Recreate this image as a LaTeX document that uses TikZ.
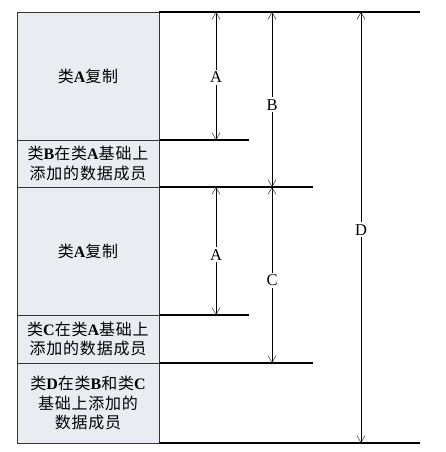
\documentclass[tikz,border=0pt]{standalone}
\usepackage{fontspec}
\setmainfont{Liberation Serif}
\newfontfamily\cjk[LetterSpace=5]{Noto Sans CJK SC}
\newcommand{\zh}[1]{{\cjk\mdseries #1}}
\usetikzlibrary{positioning, arrows.meta}
\definecolor{partfill}{RGB}{233,237,242}
\tikzstyle{Level} = [line width=2.4pt, line cap=butt]
\tikzstyle{Dim} = [
    thin,
    {Straight Barb[length=7pt, width=8pt]}-{Straight Barb[length=7pt, width=8pt]}
]

\begin{document}
\begin{tikzpicture}[
x=1pt, y=-1pt,
part/.style={
    rectangle,
    draw = black!80,
    fill = partfill,
    minimum width = 142pt,
    inner sep = 2pt,
    outer sep = 0pt,
    align = center,
    font = \fontsize{16}{19.5}\selectfont\bfseries
    },
lbl/.style={fill = white, inner sep = 2pt, font = \fontsize{16.5}{18}\selectfont}
]
\useasboundingbox (0,0) rectangle (445,452);

\node [part, minimum height = 128pt, anchor = north west] (copyB) at (17,12) {\zh{类}A\zh{复制}};
\node [part, minimum height = 47pt, below = 0pt of copyB] (addB) {
    \zh{类}B\zh{在类}A\zh{基础上}\\\zh{添加的数据成员}
};
\node [part, minimum height = 128pt, below = 0pt of addB] (copyC) {\zh{类}A\zh{复制}};
\node [part, minimum height = 48pt, below = 0pt of copyC] (addC) {
    \zh{类}C\zh{在类}A\zh{基础上}\\\zh{添加的数据成员}
};
\node [part, minimum height = 80pt, below = 0pt of addC] (addD) {
    \zh{类}D\zh{在类}B\zh{和类}C\\\zh{基础上添加的}\\\zh{数据成员}
};

% right ends of the levels
\coordinate (xShort) at (249,0);
\coordinate (xMid) at (313,0);
\coordinate (xLong) at (420,0);
% arrow columns
\coordinate (xA) at (216,0);
\coordinate (xBC) at (272,0);
\coordinate (xD) at (361,0);

\draw[Level] (copyB.north east) -- (copyB.north east -| xLong);
\draw[Level] (addB.north east) -- (addB.north east -| xShort);
\draw[Level] (copyC.north east) -- (copyC.north east -| xMid);
\draw[Level] (addC.north east) -- (addC.north east -| xShort);
\draw[Level] (addD.north east) -- (addD.north east -| xMid);
\draw[Level] (addD.south east) -- (addD.south east -| xLong);

\draw[Dim] (copyB.north -| xA) -- node[lbl, pos=0.51] {A} (addB.north -| xA);
\draw[Dim] (copyB.north -| xBC) -- node[lbl, pos=0.53] {B} (copyC.north -| xBC);
\draw[Dim] (copyC.north -| xA) -- node[lbl, pos=0.53] {A} (addC.north -| xA);
\draw[Dim] (copyC.north -| xBC) -- node[lbl, pos=0.53] {C} (addD.north -| xBC);
\draw[Dim] (copyB.north -| xD) -- node[lbl, pos=0.505] {D} (addD.south -| xD);

\end{tikzpicture}
\end{document}
